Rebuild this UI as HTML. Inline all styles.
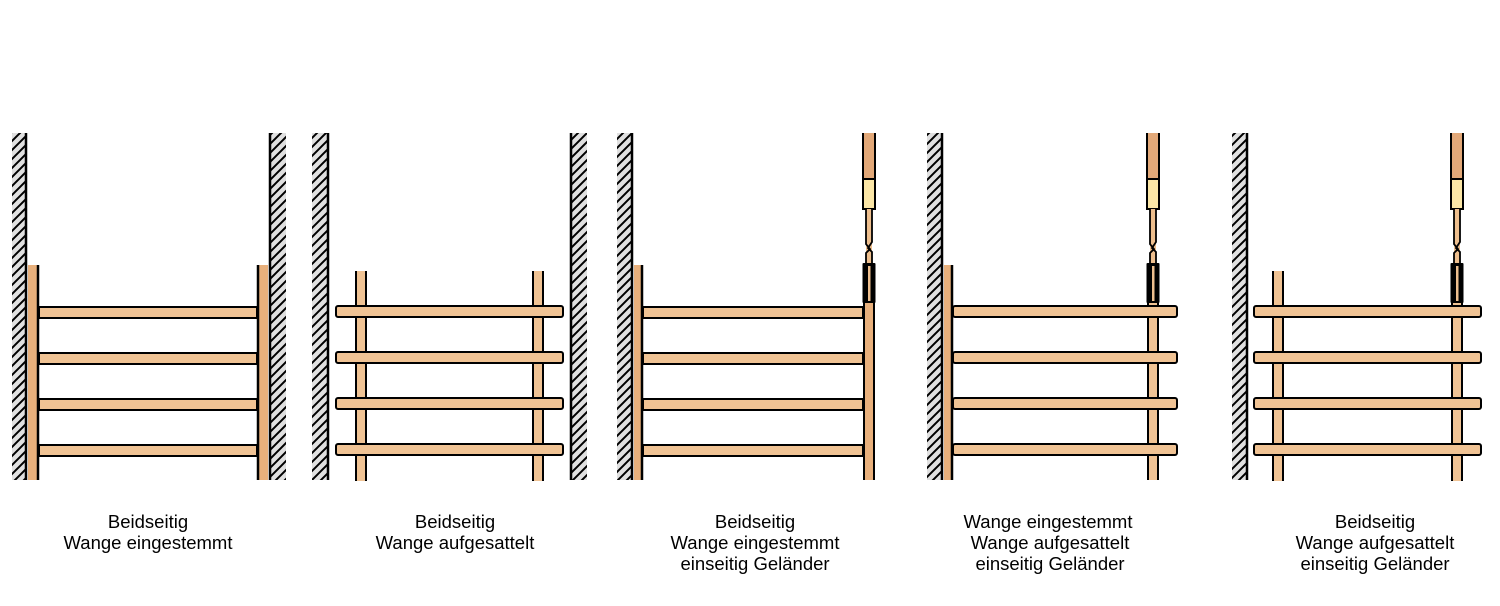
<!DOCTYPE html>
<html><head><meta charset="utf-8"><style>
html,body{margin:0;padding:0;background:#fff;width:1500px;height:606px;overflow:hidden}
svg{position:absolute;left:0;top:0}
text{font-family:"Liberation Sans",Arial,sans-serif;font-size:18.5px;fill:#000}
</style></head><body>
<svg width="1500" height="606" viewBox="0 0 1500 606" xmlns="http://www.w3.org/2000/svg">
<defs>
<pattern id="h" width="9" height="9" patternUnits="userSpaceOnUse">
<rect width="9" height="9" fill="#e0e0e0"/>
<path d="M-2,11 L11,-2 M-6.5,6.5 L6.5,-6.5 M2.5,15.5 L15.5,2.5" stroke="#000" stroke-width="2"/>
</pattern>
<g id="post">
<rect x="0" y="133" width="12" height="46" fill="#e2a878"/>
<path d="M0,133V179M12,133V179" stroke="#000" stroke-width="2"/>
<rect x="0" y="179" width="12" height="30" fill="#fbe6a6" stroke="#000" stroke-width="2"/>
<rect x="3" y="209" width="6" height="56" fill="#eebf8e"/>
<path d="M3,209V244L7,249L3,253V265M9,209V242L5,248L9,252V265" stroke="#000" stroke-width="1.8" fill="none"/>
<rect x="-0.5" y="263" width="13" height="40" fill="#000" rx="1"/>
<rect x="5" y="266" width="2.5" height="35" fill="#eebf8e"/>
</g>
</defs>

<!-- Panel 1 -->
<rect x="12" y="133" width="14" height="347" fill="url(#h)"/>
<line x1="26" y1="133" x2="26" y2="480" stroke="#000" stroke-width="2.5"/>
<rect x="28" y="265" width="10" height="215" fill="#e8b07c"/>
<line x1="38" y1="265" x2="38" y2="480" stroke="#000" stroke-width="2.5"/>
<rect x="258" y="265" width="10" height="215" fill="#e8b07c"/>
<line x1="258" y1="265" x2="258" y2="480" stroke="#000" stroke-width="2.5"/>
<rect x="271" y="133" width="15" height="347" fill="url(#h)"/>
<line x1="270" y1="133" x2="270" y2="480" stroke="#000" stroke-width="2.5"/>
<g fill="#f0c394" stroke="#000" stroke-width="2">
<rect x="39" y="307" width="218" height="11"/>
<rect x="39" y="353" width="218" height="11"/>
<rect x="39" y="399" width="218" height="11"/>
<rect x="39" y="445" width="218" height="11"/>
</g>

<!-- Panel 2 -->
<rect x="312" y="133" width="16" height="347" fill="url(#h)"/>
<line x1="328" y1="133" x2="328" y2="480" stroke="#000" stroke-width="2.5"/>
<rect x="572" y="133" width="15" height="347" fill="url(#h)"/>
<line x1="571" y1="133" x2="571" y2="480" stroke="#000" stroke-width="2.5"/>
<rect x="356" y="271" width="10" height="210" fill="#f0c394"/>
<rect x="533" y="271" width="10" height="210" fill="#f0c394"/>
<path d="M356,271V481M366,271V481M533,271V481M543,271V481" stroke="#000" stroke-width="2"/>
<g fill="#f0c394" stroke="#000" stroke-width="2">
<rect x="336" y="306" width="227" height="11" rx="2"/>
<rect x="336" y="352" width="227" height="11" rx="2"/>
<rect x="336" y="398" width="227" height="11" rx="2"/>
<rect x="336" y="444" width="227" height="11" rx="2"/>
</g>

<!-- Panel 3 -->
<rect x="617" y="133" width="15" height="347" fill="url(#h)"/>
<line x1="632" y1="133" x2="632" y2="480" stroke="#000" stroke-width="2.5"/>
<rect x="634" y="265" width="8" height="215" fill="#e8b07c"/>
<line x1="642" y1="265" x2="642" y2="480" stroke="#000" stroke-width="2.5"/>
<rect x="864" y="300" width="10" height="180" fill="#e8b07c"/>
<path d="M864,300V480M874,300V480" stroke="#000" stroke-width="2"/>
<use href="#post" x="863" y="0"/>
<g fill="#f0c394" stroke="#000" stroke-width="2">
<rect x="643" y="307" width="220" height="11"/>
<rect x="643" y="353" width="220" height="11"/>
<rect x="643" y="399" width="220" height="11"/>
<rect x="643" y="445" width="220" height="11"/>
</g>

<!-- Panel 4 -->
<rect x="927" y="133" width="15" height="347" fill="url(#h)"/>
<line x1="942" y1="133" x2="942" y2="480" stroke="#000" stroke-width="2.5"/>
<rect x="944" y="265" width="8" height="215" fill="#e8b07c"/>
<line x1="952" y1="265" x2="952" y2="480" stroke="#000" stroke-width="2.5"/>
<rect x="1148" y="300" width="10" height="180" fill="#f0c394"/>
<path d="M1148,300V480M1158,300V480" stroke="#000" stroke-width="2"/>
<use href="#post" x="1147" y="0"/>
<g fill="#f0c394" stroke="#000" stroke-width="2">
<rect x="953" y="306" width="224" height="11" rx="2"/>
<rect x="953" y="352" width="224" height="11" rx="2"/>
<rect x="953" y="398" width="224" height="11" rx="2"/>
<rect x="953" y="444" width="224" height="11" rx="2"/>
</g>

<!-- Panel 5 -->
<rect x="1232" y="133" width="15" height="347" fill="url(#h)"/>
<line x1="1247" y1="133" x2="1247" y2="480" stroke="#000" stroke-width="2.5"/>
<rect x="1273" y="271" width="10" height="210" fill="#f0c394"/>
<rect x="1452" y="300" width="10" height="181" fill="#f0c394"/>
<path d="M1273,271V481M1283,271V481M1452,300V481M1462,300V481" stroke="#000" stroke-width="2"/>
<use href="#post" x="1451" y="0"/>
<g fill="#f0c394" stroke="#000" stroke-width="2">
<rect x="1254" y="306" width="227" height="11" rx="2"/>
<rect x="1254" y="352" width="227" height="11" rx="2"/>
<rect x="1254" y="398" width="227" height="11" rx="2"/>
<rect x="1254" y="444" width="227" height="11" rx="2"/>
</g>

<!-- Labels -->
<g text-anchor="middle">
<text x="148" y="528">Beidseitig</text>
<text x="148" y="549">Wange eingestemmt</text>
<text x="455" y="528">Beidseitig</text>
<text x="455" y="549">Wange aufgesattelt</text>
<text x="755" y="528">Beidseitig</text>
<text x="755" y="549">Wange eingestemmt</text>
<text x="755" y="570">einseitig Geländer</text>
<text x="1048" y="528">Wange eingestemmt</text>
<text x="1050" y="549">Wange aufgesattelt</text>
<text x="1050" y="570">einseitig Geländer</text>
<text x="1375" y="528">Beidseitig</text>
<text x="1375" y="549">Wange aufgesattelt</text>
<text x="1375" y="570">einseitig Geländer</text>
</g>
</svg>
</body></html>
